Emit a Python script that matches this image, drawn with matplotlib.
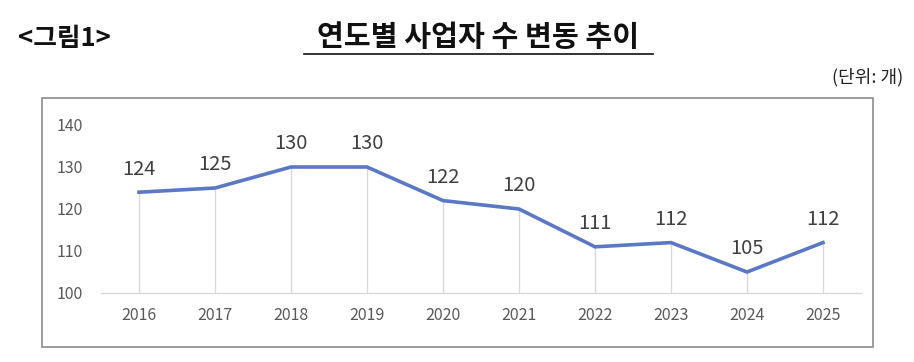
import matplotlib
matplotlib.use("Agg")
import matplotlib.pyplot as plt
from matplotlib.patches import Rectangle
from matplotlib.lines import Line2D

plt.rcParams['font.family'] = ['Noto Sans CJK KR', 'DejaVu Sans']

years = ["2016", "2017", "2018", "2019", "2020", "2021", "2022", "2023", "2024", "2025"]
values = [124, 125, 130, 130, 122, 120, 111, 112, 105, 112]
yticks = [100, 110, 120, 130, 140]

W, H = 914, 362
fig = plt.figure(figsize=(W / 100, H / 100), dpi=100)

# outer box
fig.add_artist(Rectangle((42 / W, 1 - 347 / H), 831 / W, 249 / H, transform=fig.transFigure,
                         fill=False, edgecolor="#8c8c8c", linewidth=1.2))

ax = fig.add_axes([101 / W, 1 - 293 / H, 760 / W, 168 / H])
x = list(range(len(years)))
ax.vlines(x, 100, values, color="#d9d9d9", linewidth=1, zorder=1)
ax.plot(x, values, color="#5b78c4", linewidth=2.6, zorder=3, solid_joinstyle="miter")
for xi, v in zip(x, values):
    ax.annotate(str(v), (xi, v), xytext=(0, 9), textcoords="offset points",
                ha="center", va="bottom", fontsize=14.5, fontweight=300, color="#404040")

ax.set_xlim(-0.5, len(years) - 0.5)
ax.set_ylim(100, 140)
ax.set_xticks(x)
ax.set_xticklabels(years, fontsize=11.5, fontweight=300, color="#595959")
ax.set_yticks(yticks)
ax.set_yticklabels([str(t) for t in yticks], fontsize=11.5, fontweight=300, color="#595959")
ax.tick_params(length=0, pad=10)
ax.tick_params(axis="y", pad=13)
for s in ["top", "right", "left"]:
    ax.spines[s].set_visible(False)
ax.spines["bottom"].set_color("#d9d9d9")
ax.spines["bottom"].set_linewidth(1)
ax.set_facecolor("none")

# headers
fig.text(18 / W, 1 - 39 / H, "<그림1>", fontsize=18.5, fontweight="bold", ha="left", va="center", color="#111111")
fig.text(478 / W, 1 - 37 / H, "연도별 사업자 수 변동 추이", fontsize=21, fontweight="bold",
         ha="center", va="center", color="#111111")
fig.add_artist(Line2D([304 / W, 653 / W], [1 - 54 / H, 1 - 54 / H], transform=fig.transFigure,
                      color="#111111", linewidth=1.2))
fig.text(903 / W, 1 - 77 / H, "(단위: 개)", fontsize=13, ha="right", va="center", color="#222222")

fig.savefig("out.png", dpi=100)
